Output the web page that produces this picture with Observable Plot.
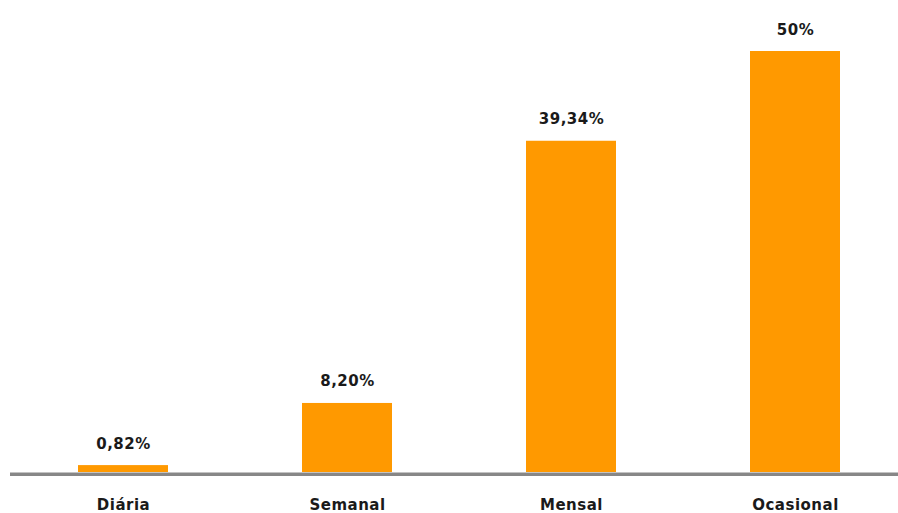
<!DOCTYPE html>
<html><head><meta charset="utf-8">
<script src="https://cdn.jsdelivr.net/npm/d3@7"></script>
<script src="https://cdn.jsdelivr.net/npm/@observablehq/plot@0.6"></script>
<style>
html,body{margin:0;padding:0;background:#fff;}
svg{display:block;}
</style>
</head><body><div id="chart"></div>
<script>
const categories = ["Diária", "Semanal", "Mensal", "Ocasional"];
const values = [0.82, 8.20, 39.34, 50];
const labels = ["0,82%", "8,20%", "39,34%", "50%"];

const data = categories.map((c, i) => ({cat: c, v: values[i], label: labels[i]}));
const font = "DejaVu Sans";

const chart = Plot.plot({
  width: 898,
  height: 513,
  marginLeft: 10,
  marginRight: 0,
  marginTop: 51,
  marginBottom: 41,
  style: {fontFamily: font, background: "#fff"},
  x: {domain: categories, range: [10, 908], paddingInner: 0.6, paddingOuter: 0.3, label: null},
  y: {domain: [0, 50], axis: null},
  marks: [
    Plot.barY(data, {x: "cat", y: "v", fill: "#FF9900"}),
    Plot.ruleY([0], {stroke: "#878787", strokeWidth: 3.5, dy: 1.8}),
    Plot.text(data, {x: "cat", y: "v", text: "label", dy: -17, lineAnchor: "bottom",
      fontSize: 15, fontWeight: "bold", fill: "#1a1a1a"}),
    Plot.axisX({tickSize: 0, tickPadding: 27, fontSize: 15, fontWeight: "bold", fill: "#1a1a1a", label: null})
  ]
});
chart.querySelectorAll("text").forEach(t => t.setAttribute("letter-spacing", "0.5px"));
document.getElementById("chart").appendChild(chart);
</script>
</body></html>
